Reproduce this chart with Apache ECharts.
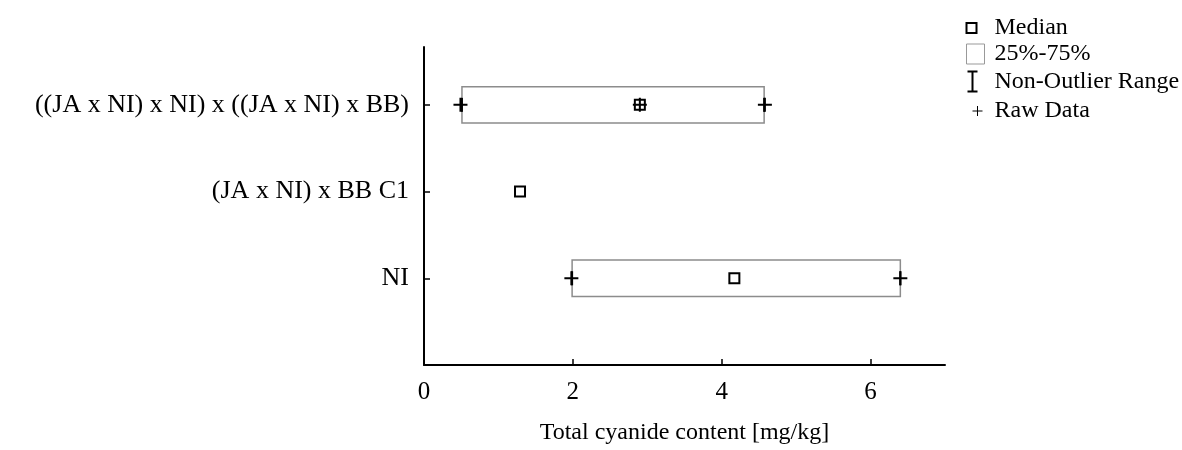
<!DOCTYPE html>
<html>
<head>
<meta charset="utf-8">
<script src="https://cdn.jsdelivr.net/npm/echarts@6/dist/echarts.min.js"></script>
<style>html,body{margin:0;padding:0;background:#fff}#c{width:1182px;height:450px}</style>
</head>
<body>
<div id="c"></div>
<script>
// categories from bottom (y=1) to top (y=3)
const categories = ['NI', '(JA x NI) x BB C1', '((JA x NI) x NI) x ((JA x NI) x BB)'];
const medians = [4.17, 1.29, 2.9];
const q25 = [1.99, null, 0.51];
const q75 = [6.4, null, 4.57];
const rangeMin = [1.99, null, 0.51];
const rangeMax = [6.4, null, 4.57];
const rawNI = [1.98, 6.4];
const rawC1 = [];
const rawTop = [0.49, 2.9, 4.58];
const xTicks = [0, 2, 4, 6];
const yTicks = [1, 2, 3];

const FONT = 'Liberation Serif';

const medianData = medians.map((m, i) => [m, i + 1]);
const boxData = [];
q25.forEach((lo, i) => { if (lo != null) boxData.push([lo, q75[i], i + 1]); });
const rangeData = [];
rangeMin.forEach((lo, i) => { if (lo != null) rangeData.push([lo, rangeMax[i], i + 1]); });
const rawData = [];
[rawNI, rawC1, rawTop].forEach((arr, i) => arr.forEach(v => rawData.push([v, i + 1])));

const chart = echarts.init(document.getElementById('c'));
chart.setOption({
  animation: false,
  backgroundColor: '#fff',
  textStyle: { fontFamily: FONT, color: '#000' },
  grid: { left: 424, right: 237, top: 47, bottom: 84 },
  legend: {
    orient: 'vertical', left: 956, top: 10, itemWidth: 26, itemHeight: 24, itemGap: 0.5,
    selectedMode: false,
    textStyle: { fontFamily: FONT, fontSize: 24, color: '#000' },
    data: [
      { name: 'Median', icon: 'path://M0,0M26,24M3,7L13,7L13,17L3,17Z',
        itemStyle: { color: '#fff', borderColor: '#000', borderWidth: 2 } },
      { name: '25%-75%', icon: 'path://M0,0M26,24M3,2L21,2L21,22L3,22Z',
        itemStyle: { color: '#fff', borderColor: '#999', borderWidth: 1 } },
      { name: 'Non-Outlier Range', icon: 'path://M0,0M26,24M4,2L14,2M9,2L9,22M4,22L14,22',
        itemStyle: { color: 'none', borderColor: '#000', borderWidth: 2 } },
      { name: 'Raw Data', icon: 'path://M0,0M26,24M9,12L19,12M14,7L14,17',
        itemStyle: { color: 'none', borderColor: '#000', borderWidth: 1 } }
    ]
  },
  xAxis: {
    type: 'value', min: 0, max: 7, interval: 2,
    name: 'Total cyanide content [mg/kg]', nameLocation: 'middle', nameGap: 56,
    nameTextStyle: { fontFamily: FONT, fontSize: 24, color: '#000' },
    axisLine: { show: true, onZero: false, lineStyle: { color: '#000', width: 2 } },
    axisTick: { show: true, inside: true, length: 6, customValues: xTicks, lineStyle: { color: '#000', width: 1.5 } },
    axisLabel: { customValues: xTicks, margin: 15, fontFamily: FONT, fontSize: 25, color: '#000' },
    splitLine: { show: false }
  },
  yAxis: {
    type: 'value', min: 0, max: 3.667,
    axisLine: { show: true, onZero: false, lineStyle: { color: '#000', width: 2 } },
    axisTick: { show: true, inside: true, length: 6, customValues: yTicks, lineStyle: { color: '#000', width: 1.5 } },
    axisLabel: { customValues: yTicks, margin: 15, fontFamily: FONT, fontSize: 26, color: '#000',
      formatter: v => categories[Math.round(v) - 1] || '' },
    splitLine: { show: false }
  },
  series: [
    {
      name: '25%-75%', type: 'custom', z: 2,
      data: boxData,
      encode: { x: [0, 1], y: 2 },
      renderItem: (params, api) => {
        const p0 = api.coord([api.value(0), api.value(2)]);
        const p1 = api.coord([api.value(1), api.value(2)]);
        const h = api.size([0, 0.42])[1];
        return { type: 'rect', shape: { x: p0[0], y: p0[1] - h / 2, width: p1[0] - p0[0], height: h },
          style: { fill: '#fff', stroke: '#8c8c8c', lineWidth: 1.5 } };
      }
    },
    {
      name: 'Non-Outlier Range', type: 'custom', z: 3,
      data: rangeData,
      encode: { x: [0, 1], y: 2 },
      renderItem: (params, api) => {
        const p0 = api.coord([api.value(0), api.value(2)]);
        const p1 = api.coord([api.value(1), api.value(2)]);
        const hh = 7;
        return { type: 'group', children: [
          { type: 'line', shape: { x1: p0[0], y1: p0[1] - hh, x2: p0[0], y2: p0[1] + hh }, style: { stroke: '#000', lineWidth: 2 } },
          { type: 'line', shape: { x1: p1[0], y1: p1[1] - hh, x2: p1[0], y2: p1[1] + hh }, style: { stroke: '#000', lineWidth: 2 } }
        ] };
      }
    },
    {
      name: 'Median', type: 'scatter', z: 4,
      data: medianData,
      symbol: 'rect', symbolSize: 10,
      itemStyle: { color: '#fff', borderColor: '#000', borderWidth: 2, opacity: 1 }
    },
    {
      name: 'Raw Data', type: 'scatter', z: 5,
      data: rawData,
      symbol: 'path://M0,7L14,7M7,0L7,14', symbolSize: 14,
      itemStyle: { color: 'none', borderColor: '#000', borderWidth: 2, opacity: 1 }
    }
  ]
});
</script>
</body>
</html>
